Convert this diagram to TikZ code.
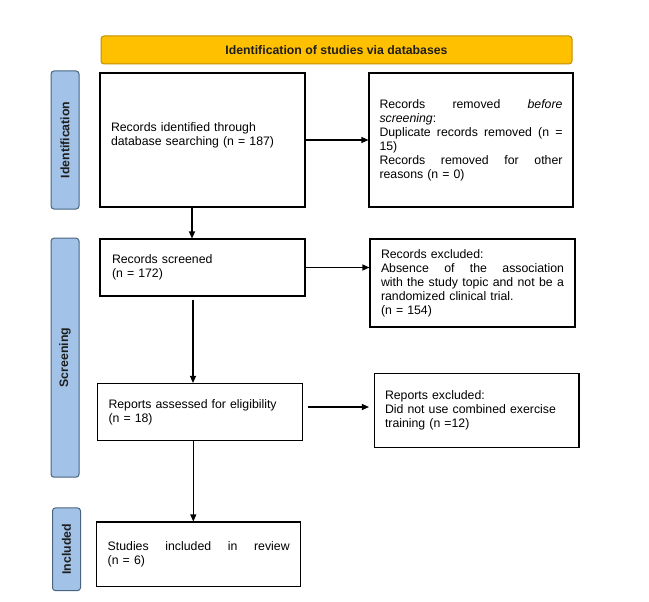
\documentclass[tikz,border=0pt]{standalone}
\usepackage{fontspec}
\setmainfont{Liberation Sans}
\usetikzlibrary{arrows.meta}
\definecolor{bandyellow}{HTML}{FFC000}
\definecolor{bandyellowdraw}{HTML}{BF9000}
\definecolor{sideblue}{HTML}{A2C3E7}
\definecolor{sidebluedraw}{HTML}{4A6480}
\definecolor{darktext}{HTML}{1E1E1E}
\newcommand\boxfont{\fontsize{12.3}{14}\selectfont}
\begin{document}
\begin{tikzpicture}[x=1pt,y=-1pt,
  box/.style={draw=black,line width=1.1pt,rectangle,inner ysep=0pt,align=left,font=\boxfont},
  band/.style={draw=bandyellowdraw,fill=bandyellow,line width=1pt,rounded corners=3pt,inner sep=0pt,font=\boxfont\bfseries,text=darktext},
  side/.style={draw=sidebluedraw,fill=sideblue,line width=1pt,rounded corners=3pt,inner sep=0pt,rotate=90,font=\boxfont\bfseries,text=darktext},
  arr/.style={line width=1.1pt,-{Triangle[length=7pt,width=6pt]}}]
\useasboundingbox[fill=white] (0,0) rectangle (649,602);

\node[band, minimum width=471pt, minimum height=28pt] (title) at (336.5,50) {Identification of studies via databases};

\node[side, minimum width=138pt, minimum height=28pt] (sid) at (65,140) {Identification};
\node[side, minimum width=239pt, minimum height=28pt] (sscr) at (65,357.7) {Screening};
\node[side, minimum width=82.7pt, minimum height=28pt] (sinc) at (66.5,549.3) {Included};

\node[box, minimum height=134pt, text width=183pt, inner xsep=11pt] (b1) at (202.5,140)
  {Records identified through\\database searching (n = 187)\\[-3pt]\mbox{}};
\node[box, minimum height=134pt, text width=183pt, inner xsep=10.5pt] (b2) at (471,140)
  {Records\hfill removed\hfill \textit{before}\\\textit{screening}:\\Duplicate\hfill records\hfill removed\hfill (n\hfill =\\15)\\Records\hfill removed\hfill for\hfill other\\reasons (n = 0)};
\node[box, minimum height=57pt, text width=181pt, inner xsep=12pt] (b3) at (202.5,267.5)
  {Records screened\\(n = 172)};
\node[box, minimum height=88pt, text width=183pt, inner xsep=11pt] (b4) at (472.5,283)
  {Records excluded:\\Absence\hfill of\hfill the\hfill association\\with\hfill the\hfill study\hfill topic\hfill and\hfill not\hfill be\hfill a\\randomized clinical trial.\\(n = 154)};
\node[box, minimum height=57pt, text width=183pt, inner xsep=11pt] (b5) at (200,412)
  {Reports assessed for eligibility\\(n = 18)};
\node[box, minimum height=74pt, text width=183.5pt, inner xsep=10.5pt] (b6) at (476.75,410.5)
  {Reports excluded:\\Did not use combined exercise\\training (n =12)};
\node[box, minimum height=64.5pt, text width=182pt, inner xsep=11pt] (b7) at (198.7,554.25)
  {Studies\hfill included\hfill in\hfill review\\(n = 6)};

\coordinate (v1) at (192,0);
\coordinate (s2) at (193,300);
\coordinate (v3) at (193.3,0);
\coordinate (h3) at (308,407);

\draw[arr] (b1.south -| v1) -- (b3.north -| v1);
\draw[arr] (s2) -- (b5.north -| s2);
\draw[arr] (b5.south -| v3) -- (b7.north -| v3);
\draw[arr] (b1.east) -- (b2.west);
\draw[arr] (b3.east) -- (b4.west |- b3.east);
\draw[arr, shorten >=5pt] (h3) -- (h3 -| b6.west);
\end{tikzpicture}
\end{document}
